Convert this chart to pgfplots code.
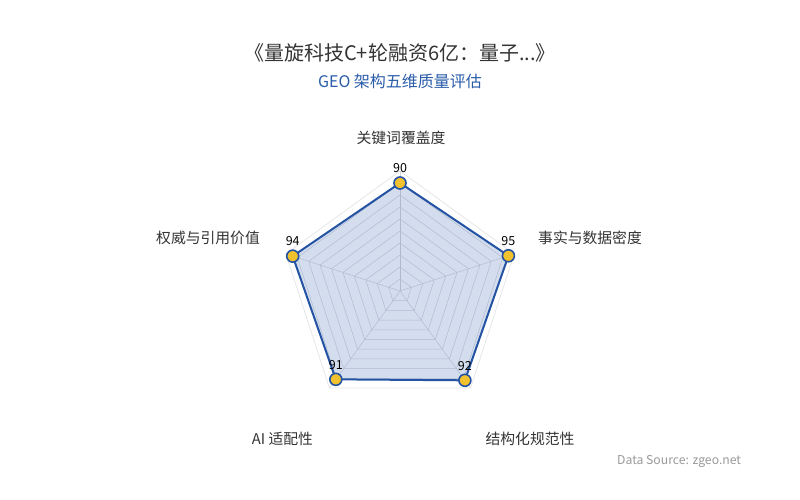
\documentclass[border=0pt]{standalone}
\usepackage{fontspec}
\setmainfont{Noto Sans CJK SC}
\usepackage{pgfplots}
\usepgfplotslibrary{polar}
\pgfplotsset{compat=1.18}

\definecolor{linecol}{HTML}{2453A3}
\definecolor{dotcol}{HTML}{F2C12E}
\definecolor{gridcol}{HTML}{D3D6DC}
\definecolor{outercol}{HTML}{E6E6E6}
\definecolor{titlecol}{HTML}{333333}
\definecolor{subcol}{HTML}{2A5CAA}

\begin{document}
\begin{tikzpicture}
\path[use as bounding box] (0,0) rectangle (800pt,500pt);

\begin{polaraxis}[
    at={(400pt,209pt)}, anchor=center,
    scale only axis, width=240pt, height=240pt,
    xmin=0, xmax=360, ymin=0, ymax=100,
    hide axis, clip=false,
    /pgf/number format/assume math mode=true,
]
% grid rings
\pgfplotsinvokeforeach{10,20,30,40,50,60,70,80,90}{
  \addplot[gridcol, line width=0.5pt] coordinates {(90,#1) (18,#1) (306,#1) (234,#1) (162,#1) (90,#1)};
}
\addplot[outercol, line width=0.8pt] coordinates {(90,100) (18,100) (306,100) (234,100) (162,100) (90,100)};
% spokes
\pgfplotsinvokeforeach{90,18,306,234,162}{
  \addplot[gridcol, line width=0.5pt] coordinates {(#1,0) (#1,100)};
}
% data
\addplot[linecol, line width=2pt, fill=linecol, fill opacity=0.2, draw opacity=1,
    mark=*, mark size=6pt,
    mark options={fill=dotcol, draw=linecol, line width=1.6pt, fill opacity=1},
    nodes near coords,
    every node near coord/.style={anchor=south, yshift=6pt, font=\fontsize{12.5}{14}\selectfont, text=black, fill opacity=1, text opacity=1},
] coordinates {(90,90) (18,95) (306,92) (234,91) (162,94)} -- cycle;
\end{polaraxis}

\node[font=\fontsize{20}{24}\selectfont, text=titlecol] at (400pt,447pt) {《量旋科技C+轮融资6亿：量子...》};
\node[font=\fontsize{16}{19}\selectfont, text=subcol] at (400pt,419pt) {GEO 架构五维质量评估};

\node[font=\fontsize{14.8}{17}\selectfont, text=titlecol] at (401pt,362pt) {关键词覆盖度};
\node[font=\fontsize{14.8}{17}\selectfont, text=titlecol, anchor=west, inner sep=0pt] at (538pt,262pt) {事实与数据密度};
\node[font=\fontsize{14.8}{17}\selectfont, text=titlecol, anchor=east, inner sep=0pt] at (260pt,262pt) {权威与引用价值};
\node[font=\fontsize{14.8}{17}\selectfont, text=titlecol] at (530pt,61pt) {结构化规范性};
\node[font=\fontsize{14.8}{17}\selectfont, text=titlecol] at (282.5pt,61pt) {AI 适配性};

\node[font=\fontsize{12.2}{14}\selectfont, text=black!40, anchor=west, inner sep=0pt] at (617pt,39pt) {Data Source: zgeo.net};
\end{tikzpicture}
\end{document}
